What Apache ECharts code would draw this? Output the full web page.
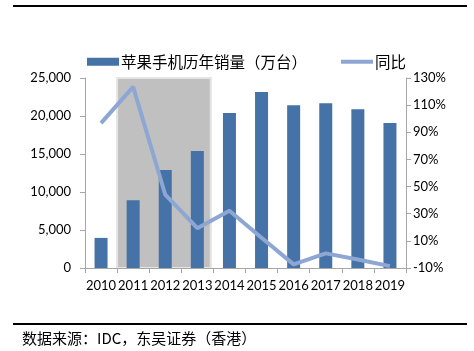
<!DOCTYPE html>
<html>
<head>
<meta charset="utf-8">
<script src="https://cdn.jsdelivr.net/npm/echarts@6/dist/echarts.min.js"></script>
<style>
  html, body { margin: 0; padding: 0; background: #fff; }
  #chart { width: 474px; height: 351px; }
</style>
</head>
<body>
<div id="chart"></div>
<script>
// 年份
var years = ['2010', '2011', '2012', '2013', '2014', '2015', '2016', '2017', '2018', '2019'];
// 苹果手机历年销量（万台）
var sales = [3960, 8900, 12900, 15400, 20400, 23150, 21400, 21670, 20900, 19080];
// 同比（%）
var yoy = [96.7, 123.5, 44, 19.3, 32.2, 12.3, -7.3, 0.8, -3.7, -8.6];
// 阴影区间（按类别序号）
var shadeRange = [1, 3.92];

var dom = document.getElementById('chart');
var myChart = echarts.init(dom);

var font = 'Lato, "Noto Sans CJK SC", sans-serif';

var option = {
    animation: false,
    textStyle: { fontFamily: font },
    legend: {
        data: [
            { name: '苹果手机历年销量（万台）', icon: 'rect' },
            { name: '同比', icon: 'path://M0,0 L8,0 L8,1 L0,1 Z', itemStyle: { color: '#8ea6d3' } }
        ],
        left: 82,
        top: 49,
        itemWidth: 32,
        itemHeight: 8,
        itemGap: 34,
        textStyle: { fontSize: 15.5, color: '#000', fontFamily: '"Noto Sans CJK SC", sans-serif', padding: [0, 0, 0, -3] }
    },
    grid: {
        left: 85,
        right: 68,
        top: 78,
        bottom: 83
    },
    xAxis: [
        {
            type: 'category',
            data: years,
            axisLine: { lineStyle: { color: '#a6a6a6', width: 1 } },
            axisTick: { show: true, length: 5, interval: 0, lineStyle: { color: '#a6a6a6' } },
            axisLabel: { color: '#000', fontSize: 13, margin: 11, interval: 0 },
            z: 5
        },
        {
            type: 'value',
            min: 0,
            max: 10,
            show: false
        }
    ],
    yAxis: [
        {
            type: 'value',
            min: 0,
            max: 25000,
            interval: 5000,
            axisLine: { show: true, lineStyle: { color: '#a6a6a6' } },
            axisTick: { show: true, length: 5, lineStyle: { color: '#a6a6a6' } },
            axisLabel: {
                color: '#000',
                fontSize: 13,
                margin: 14,
                formatter: function (v) { return v.toLocaleString('en-US'); }
            },
            splitLine: { show: false }
        },
        {
            type: 'value',
            min: -10,
            max: 130,
            interval: 20,
            axisLine: { show: true, lineStyle: { color: '#a6a6a6' } },
            axisTick: { show: true, length: 5, lineStyle: { color: '#a6a6a6' } },
            axisLabel: { color: '#000', fontSize: 13, margin: 7, formatter: '{value}%' },
            splitLine: { show: false }
        }
    ],
    series: [
        {
            name: 'shade',
            type: 'line',
            xAxisIndex: 1,
            yAxisIndex: 0,
            data: [],
            silent: true,
            markArea: {
                silent: true,
                itemStyle: { color: '#c0c0c0', borderColor: '#e4e4e4', borderWidth: 2 },
                data: [[{ xAxis: shadeRange[0] }, { xAxis: shadeRange[1] }]]
            },
            z: 1
        },
        {
            name: '苹果手机历年销量（万台）',
            type: 'bar',
            data: sales,
            barWidth: 13,
            itemStyle: { color: '#4572a7' },
            z: 3
        },
        {
            name: '同比',
            type: 'line',
            yAxisIndex: 1,
            data: yoy,
            symbol: 'none',
            lineStyle: { color: '#8ea6d3', width: 4 },
            itemStyle: { color: '#8ea6d3' },
            z: 4
        }
    ],
    graphic: [
        {
            type: 'rect',
            shape: { x: 13, y: 5, width: 454, height: 2 },
            style: { fill: '#000' }
        },
        {
            type: 'rect',
            shape: { x: 13, y: 323, width: 454, height: 2 },
            style: { fill: '#000' }
        },
        {
            type: 'text',
            left: 22,
            top: 331,
            style: {
                text: '数据来源：IDC，东吴证券（香港）',
                fill: '#000',
                font: '15px "Noto Sans CJK SC", sans-serif'
            }
        }
    ]
};

if (option && typeof option === "object") {
    myChart.setOption(option, true);
}
window.addEventListener('resize', function () {
    myChart.resize();
});
</script>
</body>
</html>
